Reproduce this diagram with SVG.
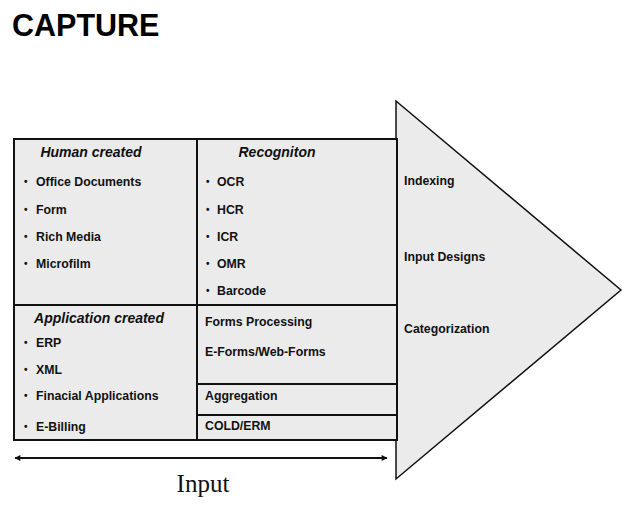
<svg xmlns="http://www.w3.org/2000/svg" width="640" height="510" viewBox="0 0 640 510">
<style>
.t{font-family:"Liberation Sans",Arial,sans-serif;font-weight:bold;font-size:12.3px;fill:#111}
.b{font-family:"Liberation Sans",Arial,sans-serif;font-weight:bold;font-size:10px;fill:#111}
.h{font-family:"Liberation Sans",Arial,sans-serif;font-weight:bold;font-style:italic;font-size:14px;fill:#111}
.ln{stroke:#111;stroke-width:2;fill:none}
</style>
<defs>
<marker id="ah" viewBox="0 0 10 10" refX="9" refY="5" markerWidth="8" markerHeight="6" orient="auto-start-reverse" markerUnits="userSpaceOnUse">
<path d="M0,0 L10,5 L0,10 z" fill="#111"/>
</marker>
</defs>
<rect width="640" height="510" fill="#fff"/>
<text x="12" y="36" font-family="Liberation Sans,Arial,sans-serif" font-weight="bold" font-size="30.5" fill="#000">CAPTURE</text>
<g id="arrowhead-shape">
<polygon points="396,101 621,290 396,479" fill="#ebebeb" stroke="#111" stroke-width="1.5"/>
</g>
<g id="grid">
<rect x="14" y="139" width="383" height="301" fill="#ebebeb" stroke="#111" stroke-width="2"/>
<line class="ln" x1="197" y1="139" x2="197" y2="440"/>
<line class="ln" x1="14" y1="305" x2="397" y2="305"/>
<line class="ln" x1="197" y1="384" x2="397" y2="384"/>
<line class="ln" x1="197" y1="415" x2="397" y2="415"/>
</g>
<g id="human">
<text class="h" x="91" y="157" text-anchor="middle">Human created</text>
<text class="b" x="24" y="185">•</text><text class="t" x="36" y="186">Office Documents</text>
<text class="b" x="24" y="213">•</text><text class="t" x="36" y="214">Form</text>
<text class="b" x="24" y="240">•</text><text class="t" x="36" y="241">Rich Media</text>
<text class="b" x="24" y="267">•</text><text class="t" x="36" y="268">Microfilm</text>
</g>
<g id="recognition">
<text class="h" x="277" y="157" text-anchor="middle">Recogniton</text>
<text class="b" x="206" y="185">•</text><text class="t" x="217" y="186">OCR</text>
<text class="b" x="206" y="213">•</text><text class="t" x="217" y="214">HCR</text>
<text class="b" x="206" y="240">•</text><text class="t" x="217" y="241">ICR</text>
<text class="b" x="206" y="267">•</text><text class="t" x="217" y="268">OMR</text>
<text class="b" x="206" y="294">•</text><text class="t" x="217" y="295">Barcode</text>
</g>
<g id="application">
<text class="h" x="99" y="323" text-anchor="middle">Application created</text>
<text class="b" x="24" y="346">•</text><text class="t" x="36" y="347">ERP</text>
<text class="b" x="24" y="373">•</text><text class="t" x="36" y="374">XML</text>
<text class="b" x="24" y="399">•</text><text class="t" x="36" y="400">Finacial Applications</text>
<text class="b" x="24" y="430">•</text><text class="t" x="36" y="431">E-Billing</text>
</g>
<g id="forms">
<text class="t" x="205" y="326">Forms Processing</text>
<text class="t" x="205" y="356">E-Forms/Web-Forms</text>
</g>
<g id="aggregation"><text class="t" x="205" y="400">Aggregation</text></g>
<g id="cold"><text class="t" x="205" y="430">COLD/ERM</text></g>
<g id="labels">
<text class="t" x="404" y="185">Indexing</text>
<text class="t" x="404" y="261">Input Designs</text>
<text class="t" x="404" y="333">Categorization</text>
</g>
<g id="connectors">
<line x1="15" y1="458" x2="387" y2="458" stroke="#111" stroke-width="2" marker-start="url(#ah)" marker-end="url(#ah)"/>
</g>
<text x="203" y="492" text-anchor="middle" font-family="Liberation Serif,Times New Roman,serif" font-size="25" fill="#111">Input</text>
</svg>
